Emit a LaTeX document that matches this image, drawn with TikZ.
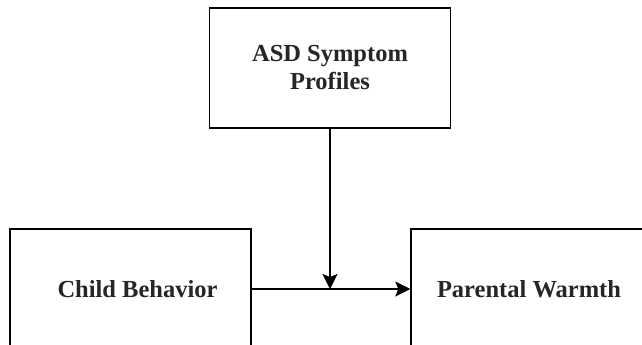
\documentclass[tikz,border=0pt]{standalone}
\usepackage{fontspec}
\setmainfont{Liberation Serif}
\usetikzlibrary{arrows.meta}
\begin{document}
\begin{tikzpicture}[x=1pt,y=-1pt,
  box/.style={draw=black,line width=1.4pt,rectangle,inner sep=0pt,
    font=\fontsize{24.5}{28}\selectfont\bfseries,align=center,text=black!85},
  conn/.style={line width=1.4pt,-{Stealth[length=15pt,width=15pt,inset=3pt]}}]
\useasboundingbox (0,0) rectangle (642,345);
\fill[white] (0,0) rectangle (642,345);
\begin{scope}
\clip (0,0) rectangle (642,345);
\node[box,minimum width=241pt,minimum height=120pt] (top) at (330,68) {ASD Symptom\\Profiles};
\node[box,minimum width=241pt,minimum height=120pt] (lbox) at (130.5,289) {\hspace*{14pt}Child Behavior};
\node[box,minimum width=236pt,minimum height=120pt] (rbox) at (529,289) {Parental Warmth};
\end{scope}
\coordinate (meet) at (top.south |- lbox.east);
\draw[conn] (lbox.east) -- (rbox.west);
\draw[conn] (top.south) -- (meet);
\end{tikzpicture}
\end{document}
